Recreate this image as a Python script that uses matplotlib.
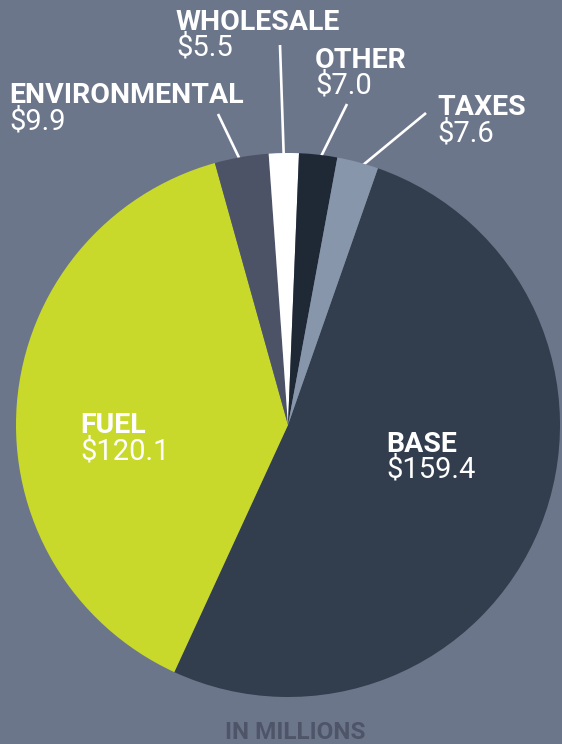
import numpy as np
import matplotlib
matplotlib.use("Agg")
import matplotlib.pyplot as plt

# ── Data (in millions) ────────────────────────────────────────────────────────
categories = ["BASE", "FUEL", "ENVIRONMENTAL", "WHOLESALE", "OTHER", "TAXES"]
values     = [159.4, 120.1, 9.9, 5.5, 7.0, 7.6]
colors     = ["#323d4d", "#c8d92b", "#4d5366", "#ffffff", "#1f2835", "#8796ab"]

BG = "#6c768b"
W, H = 562, 744

fig = plt.figure(figsize=(W / 100, H / 100), dpi=100, facecolor=BG)
ax = fig.add_axes([0, 0, 1, 1])

cx, cy, r = 288, H - 425, 272
wedges, _ = ax.pie(values, colors=colors, startangle=70.7, counterclock=False,
                   center=(cx, cy), radius=r, frame=True,
                   wedgeprops=dict(linewidth=0))
ax.set_xlim(0, W)
ax.set_ylim(0, H)
ax.set_aspect("equal")
ax.axis("off")

name_kw  = dict(color="white", fontsize=20.5, fontweight="bold", family="Roboto",
                ha="left", va="baseline")
value_kw = dict(color="white", fontsize=21, fontweight="normal", family="Roboto",
                ha="left", va="baseline")

def label(x, y_name, cat, val):
    ax.text(x, H - y_name, cat, **name_kw)
    ax.text(x, H - y_name - 26, f"${val:.1f}", **value_kw)

# big slices: labels sit inside the wedge
label(80, 433, "FUEL", values[1])
label(386, 452, "BASE", values[0])

# small slices: labels up top with leader lines
outside = {
    "ENVIRONMENTAL": dict(text=(9, 103), line=(218, 114)),
    "WHOLESALE":     dict(text=(176, 30), line=(280, 45)),
    "OTHER":         dict(text=(315, 68), line=(347, 104)),
    "TAXES":         dict(text=(437, 115), line=(426, 113)),
}
for i, cat in enumerate(categories):
    if cat not in outside:
        continue
    spec = outside[cat]
    label(spec["text"][0], spec["text"][1], cat, values[i])
    w = wedges[i]
    mid = np.deg2rad((w.theta1 + w.theta2) / 2)
    x_in = cx + 0.965 * r * np.cos(mid)
    y_in = cy + 0.965 * r * np.sin(mid)
    x_out, y_out = spec["line"][0], H - spec["line"][1]
    ax.plot([x_out, x_in], [y_out, y_in], color="white", lw=1.9,
            solid_capstyle="butt", zorder=0.5)

ax.text(295, H - 739, "IN MILLIONS", color="#4e5569", fontsize=17.5,
        fontweight="bold", family="Roboto", ha="center", va="baseline")

fig.savefig("out.png", dpi=100, facecolor=BG)
plt.close(fig)
